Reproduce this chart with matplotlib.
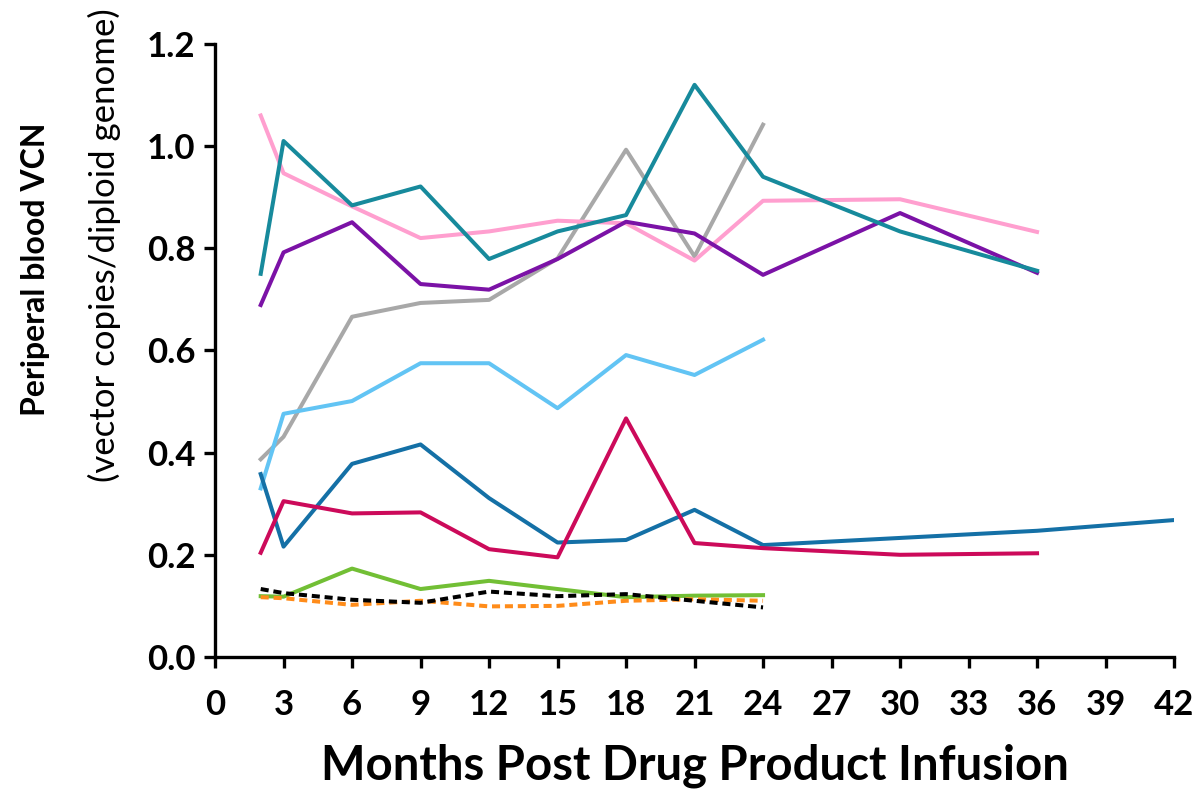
import matplotlib
matplotlib.use("Agg")
import matplotlib.pyplot as plt

# months post infusion
x_long = [2, 3, 6, 9, 12, 15, 18, 21, 24, 30, 36]
x_short = [2, 3, 6, 9, 12, 15, 18, 21, 24]
x_blue = [2, 3, 6, 9, 12, 15, 18, 21, 24, 30, 36, 42]

pink = [1.06, 0.947, 0.882, 0.820, 0.833, 0.854, 0.849, 0.776, 0.893, 0.896, 0.832]
teal = [0.75, 1.01, 0.884, 0.921, 0.779, 0.833, 0.865, 1.12, 0.94, 0.833, 0.756]
purple = [0.689, 0.792, 0.851, 0.730, 0.719, 0.779, 0.852, 0.829, 0.748, 0.869, 0.752]
crimson = [0.204, 0.305, 0.281, 0.283, 0.211, 0.195, 0.467, 0.223, 0.213, 0.200, 0.203]
gray = [0.387, 0.431, 0.666, 0.693, 0.699, 0.78, 0.993, 0.784, 1.042]
light_blue = [0.330, 0.476, 0.501, 0.575, 0.575, 0.487, 0.591, 0.552, 0.621]
green = [0.119, 0.118, 0.173, 0.133, 0.149, 0.133, 0.117, 0.120, 0.121]
black_dash = [0.133, 0.125, 0.112, 0.106, 0.128, 0.119, 0.123, 0.110, 0.097]
orange_dash = [0.117, 0.115, 0.102, 0.110, 0.099, 0.100, 0.110, 0.113, 0.110]
dark_blue = [0.358, 0.216, 0.378, 0.416, 0.311, 0.224, 0.229, 0.288, 0.219, 0.233, 0.247, 0.268]

font = "Lato"

fig = plt.figure(figsize=(11.98, 7.92), dpi=100)
ax = fig.add_axes([0.1795, 0.1705, 0.8005, 0.774])

lw = 2.9
dash = (0, (2.0, 1.2))
ax.plot(x_short, gray, color="#a8a8a8", lw=lw)
ax.plot(x_long, pink, color="#ff9fcf", lw=lw)
ax.plot(x_long, purple, color="#7b12a6", lw=lw)
ax.plot(x_long, teal, color="#178a9c", lw=lw)
ax.plot(x_short, light_blue, color="#62c4f4", lw=lw)
ax.plot(x_blue, dark_blue, color="#1470a6", lw=lw)
ax.plot(x_long, crimson, color="#cc0a5a", lw=lw)
ax.plot(x_short, green, color="#72bf35", lw=lw)
ax.plot(x_short, orange_dash, color="#ff8c1a", lw=lw, ls=dash)
ax.plot(x_short, black_dash, color="black", lw=lw, ls=dash)

ax.set_xlim(0, 42)
ax.set_ylim(0, 1.2)
ax.set_xticks(range(0, 43, 3))
ax.set_yticks([0.0, 0.2, 0.4, 0.6, 0.8, 1.0, 1.2])
ax.set_yticklabels(["0.0", "0.2", "0.4", "0.6", "0.8", "1.0", "1.2"])

for s in ["top", "right"]:
    ax.spines[s].set_visible(False)
for s in ["left", "bottom"]:
    ax.spines[s].set_linewidth(2.4)
ax.tick_params(axis="both", width=2.4, length=8, labelsize=25)
ax.tick_params(axis="x", pad=15)
ax.tick_params(axis="y", pad=6)
for lab in ax.get_xticklabels() + ax.get_yticklabels():
    lab.set_family(font)
    lab.set_fontweight("bold")

ax.set_xlabel("Months Post Drug Product Infusion", fontsize=34, fontweight="bold",
              family=font, labelpad=16)

fig.text(0.030, 0.66, "Periperal blood VCN", rotation=90, ha="center", va="center",
         fontsize=23, fontweight="bold", family=font)
fig.text(0.087, 0.691, "(vector copies/diploid genome)", rotation=90, ha="center",
         va="center", fontsize=25, family=font)

fig.savefig("out.png", dpi=100)
